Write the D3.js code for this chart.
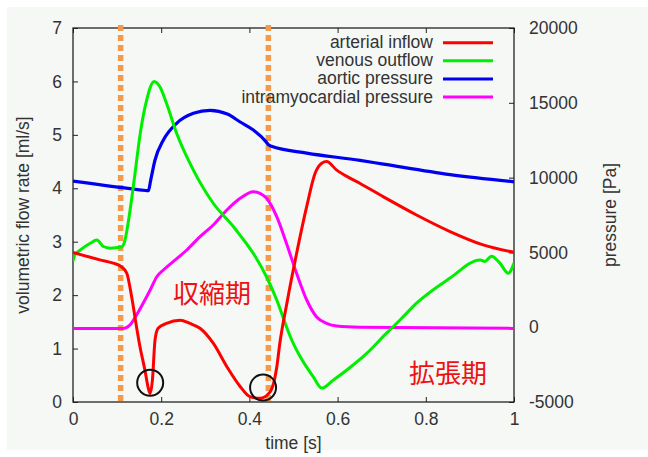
<!DOCTYPE html>
<html>
<head>
<meta charset="utf-8">
<script src="https://cdn.jsdelivr.net/npm/d3@7/dist/d3.min.js"></script>
<style>
  body { margin: 0; background: #ffffff; }
  svg { display: block; font-family: "Liberation Sans", Arial, sans-serif; }
</style>
</head>
<body>
<svg id="chart" width="648" height="457"></svg>
<script>
// time [s] / flow [ml/s]
var arterialT = [0, 0.061, 0.091, 0.11, 0.122, 0.133, 0.144, 0.152, 0.163, 0.171, 0.175, 0.18, 0.186, 0.193, 0.212, 0.243, 0.265, 0.288, 0.318, 0.349, 0.379, 0.401, 0.424, 0.447, 0.462, 0.469, 0.485, 0.507, 0.53, 0.549, 0.564, 0.575, 0.598, 0.628, 0.651, 0.704, 0.779, 0.855, 0.93, 1.0];
var arterialV = [2.80, 2.66, 2.60, 2.53, 2.41, 1.97, 1.41, 1.03, 0.60, 0.25, 0.16, 0.40, 1.16, 1.38, 1.47, 1.53, 1.47, 1.38, 1.10, 0.66, 0.29, 0.10, 0.07, 0.19, 0.65, 1.10, 1.85, 2.78, 3.66, 4.28, 4.47, 4.50, 4.34, 4.19, 4.09, 3.84, 3.50, 3.19, 2.94, 2.80];

var venousT = [0, 0.004, 0.016, 0.039, 0.054, 0.069, 0.084, 0.11, 0.118, 0.125, 0.133, 0.141, 0.152, 0.167, 0.184, 0.197, 0.212, 0.235, 0.273, 0.318, 0.364, 0.379, 0.409, 0.439, 0.462, 0.484, 0.496, 0.515, 0.545, 0.564, 0.59, 0.621, 0.666, 0.711, 0.741, 0.779, 0.855, 0.923, 0.934, 0.949, 0.968, 0.987, 1.0];
var venousV = [2.64, 2.75, 2.84, 2.97, 3.03, 2.91, 2.88, 2.90, 3.03, 3.35, 3.80, 4.30, 5.00, 5.65, 6.00, 5.90, 5.59, 5.03, 4.34, 3.72, 3.28, 3.12, 2.78, 2.34, 1.91, 1.41, 1.16, 0.85, 0.47, 0.26, 0.41, 0.60, 0.91, 1.29, 1.53, 1.85, 2.32, 2.66, 2.63, 2.73, 2.60, 2.41, 2.60];

// time [s] / pressure [Pa]
var aorticT = [0, 0.165, 0.171, 0.176, 0.186, 0.205, 0.235, 0.273, 0.311, 0.35, 0.38, 0.409, 0.437, 0.443, 0.45, 0.53, 0.651, 0.704, 0.855, 1.0];
var aorticP = [9770, 9140, 9120, 9800, 11176, 12512, 13629, 14297, 14500, 14250, 13700, 13181, 12420, 12200, 12090, 11640, 11150, 10900, 10200, 9720];

var intramyoT = [0, 0.114, 0.129, 0.144, 0.159, 0.175, 0.19, 0.205, 0.227, 0.258, 0.288, 0.318, 0.349, 0.379, 0.409, 0.424, 0.439, 0.462, 0.484, 0.507, 0.53, 0.552, 0.575, 0.598, 0.65, 1.0];
var intramyoP = [-80, -80, 147, 815, 1597, 2486, 3375, 3823, 4378, 5160, 6049, 6831, 7834, 8616, 9057, 8950, 8616, 7386, 5608, 3603, 1818, 702, 261, 80, 0, -80];

var seriesNames = ["arterial inflow", "venous outflow", "aortic pressure", "intramyocardial pressure"];
var seriesColors = ["#ff0000", "#00ee00", "#0000ee", "#ff00ff"];

var phaseTimes = [0.108, 0.443];
var phaseLabels = [{ t: 0.227, v: 2.07, text: "収縮期" }, { t: 0.762, v: 0.57, text: "拡張期" }];
var markers = [{ t: 0.175, v: 0.36 }, { t: 0.431, v: 0.27 }];

var xTicks = [0, 0.2, 0.4, 0.6, 0.8, 1];
var yTicks = [0, 1, 2, 3, 4, 5, 6, 7];
var y2Ticks = [-5000, 0, 5000, 10000, 15000, 20000];

var svg = d3.select("#chart");
var pLeft = 73, pRight = 514, pTop = 28, pBottom = 402;
var x = d3.scaleLinear().domain([0, 1]).range([pLeft, pRight]);
var y = d3.scaleLinear().domain([0, 7]).range([pBottom, pTop]);
var y2 = d3.scaleLinear().domain([-5000, 20000]).range([pBottom, pTop]);

svg.append("rect").attr("x", 7).attr("y", 7).attr("width", 641).attr("height", 443).attr("fill", "#f5f8f5");

var textColor = "#333";
var fs = "17.5px";

function styleAxis(g) {
    g.select(".domain").remove();
    g.selectAll(".tick line").attr("stroke", "#222").attr("stroke-width", 1);
    g.selectAll(".tick text").attr("fill", textColor).style("font-size", fs).style("font-family", "Liberation Sans, Arial, sans-serif");
}

svg.append("g").attr("transform", "translate(0," + pBottom + ")")
    .call(d3.axisBottom(x).tickValues(xTicks).tickSizeInner(-5).tickSizeOuter(0).tickPadding(11).tickFormat(function (d) { return String(d); }))
    .call(styleAxis);
svg.append("g").attr("transform", "translate(0," + pTop + ")")
    .call(d3.axisTop(x).tickValues(xTicks).tickSizeInner(-5).tickSizeOuter(0).tickFormat(""))
    .call(styleAxis);
svg.append("g").attr("transform", "translate(" + pLeft + ",0)")
    .call(d3.axisLeft(y).tickValues(yTicks).tickSizeInner(-5).tickSizeOuter(0).tickPadding(11).tickFormat(function (d) { return String(d); }))
    .call(styleAxis);
svg.append("g").attr("transform", "translate(" + pRight + ",0)")
    .call(d3.axisRight(y2).tickValues(y2Ticks).tickSizeInner(-5).tickSizeOuter(0).tickPadding(15).tickFormat(function (d) { return String(d); }))
    .call(styleAxis);

svg.append("rect").attr("x", pLeft).attr("y", pTop).attr("width", pRight - pLeft).attr("height", pBottom - pTop)
    .attr("fill", "none").attr("stroke", "#222").attr("stroke-width", 1.3);

// axis titles
svg.append("text").attr("transform", "translate(29," + ((pTop + pBottom) / 2) + ") rotate(-90)")
    .attr("text-anchor", "middle").attr("fill", textColor).style("font-size", fs).text("volumetric flow rate [ml/s]");
svg.append("text").attr("transform", "translate(616," + ((pTop + pBottom) / 2) + ") rotate(-90)")
    .attr("text-anchor", "middle").attr("fill", textColor).style("font-size", fs).text("pressure [Pa]");
svg.append("text").attr("x", (pLeft + pRight) / 2).attr("y", 449)
    .attr("text-anchor", "middle").attr("fill", textColor).style("font-size", fs).text("time [s]");

// phase boundaries
svg.selectAll("line.phase").data(phaseTimes).enter().append("line")
    .attr("class", "phase")
    .attr("x1", function (d) { return x(d); }).attr("x2", function (d) { return x(d); })
    .attr("y1", 25).attr("y2", pBottom)
    .attr("stroke", "#f39a4c").attr("stroke-width", 5.5).attr("stroke-dasharray", "6,4");

function zip(ts, vs) { return ts.map(function (t, i) { return [t, vs[i]]; }); }

var flowLine = d3.line().curve(d3.curveMonotoneX).x(function (d) { return x(d[0]); }).y(function (d) { return y(d[1]); });
var pressLine = d3.line().curve(d3.curveMonotoneX).x(function (d) { return x(d[0]); }).y(function (d) { return y2(d[1]); });

var clip = svg.append("clipPath").attr("id", "plotclip");
clip.append("rect").attr("x", pLeft).attr("y", pTop).attr("width", pRight - pLeft).attr("height", pBottom - pTop);
var plot = svg.append("g").attr("clip-path", "url(#plotclip)");

plot.append("path").attr("d", pressLine(zip(intramyoT, intramyoP))).attr("fill", "none").attr("stroke", seriesColors[3]).attr("stroke-width", 3);
plot.append("path").attr("d", pressLine(zip(aorticT, aorticP))).attr("fill", "none").attr("stroke", seriesColors[2]).attr("stroke-width", 3.2);
plot.append("path").attr("d", flowLine(zip(venousT, venousV))).attr("fill", "none").attr("stroke", seriesColors[1]).attr("stroke-width", 3);
plot.append("path").attr("d", flowLine(zip(arterialT, arterialV))).attr("fill", "none").attr("stroke", seriesColors[0]).attr("stroke-width", 3);

// legend
seriesNames.forEach(function (name, i) {
    var ly = 42.7 + i * 18.1;
    svg.append("text").attr("x", 433).attr("y", ly + 5.5).attr("text-anchor", "end")
        .attr("fill", textColor).style("font-size", fs).text(name);
    svg.append("line").attr("x1", 443).attr("x2", 493).attr("y1", ly).attr("y2", ly)
        .attr("stroke", seriesColors[i]).attr("stroke-width", 3);
});

// annotations
svg.selectAll("text.phase").data(phaseLabels).enter().append("text")
    .attr("class", "phase")
    .attr("x", function (d) { return x(d.t); }).attr("y", function (d) { return y(d.v); })
    .attr("dominant-baseline", "central")
    .attr("fill", "#ee1111").style("font-size", "26px")
    .style("font-family", "'Noto Sans CJK JP', sans-serif")
    .text(function (d) { return d.text; });

svg.selectAll("circle.marker").data(markers).enter().append("circle")
    .attr("class", "marker")
    .attr("cx", function (d) { return x(d.t); }).attr("cy", function (d) { return y(d.v); })
    .attr("r", 13).attr("fill", "none").attr("stroke", "#111").attr("stroke-width", 2);
</script>
</body>
</html>
